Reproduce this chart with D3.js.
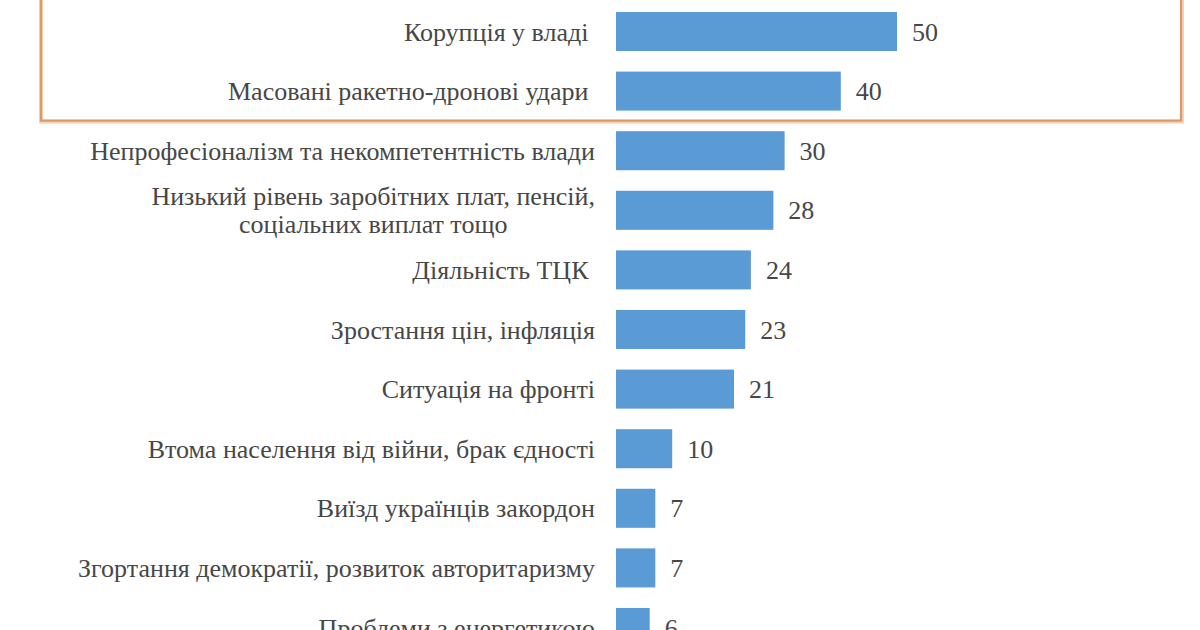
<!DOCTYPE html>
<html>
<head>
<meta charset="utf-8">
<script src="https://cdn.jsdelivr.net/npm/d3@7"></script>
<style>
  html, body { margin: 0; padding: 0; background: #fff; }
  svg { display: block; }
  text { font-family: "Liberation Serif", "Times New Roman", serif; fill: #474747; }
</style>
</head>
<body>
<script>
// <--Data--> //
var categories = [
  ["Корупція у владі\u00a0"],
  ["Масовані ракетно-дронові удари\u00a0"],
  ["Непрофесіоналізм та некомпетентність влади"],
  ["Низький рівень заробітних плат, пенсій,", "соціальних виплат тощо"],
  ["Діяльність ТЦК\u00a0"],
  ["Зростання цін, інфляція"],
  ["Ситуація на фронті"],
  ["Втома населення від війни, брак єдності"],
  ["Виїзд українців закордон"],
  ["Згортання демократії, розвиток авторитаризму"],
  ["Проблеми з енергетикою"]
];
var values = [50, 40, 30, 28, 24, 23, 21, 10, 7, 7, 6];
var highlighted = [0, 1];

// <--Setup--> //
var W = 1200, H = 630;
var fs = 26;
var svg = d3.select("body").append("svg")
  .attr("width", W).attr("height", H);

var idx = d3.range(values.length);

var y = d3.scaleBand()
  .domain(idx)
  .range([1.7, 657.3])
  .paddingInner(0.345)
  .paddingOuter(0.1725);

var x = d3.scaleLinear()
  .domain([0, 50])
  .range([616, 897]);

// highlight box round the top rows
var hiTop = y(highlighted[0]) - y.step() * 0.345 / 2 - 9;
var hiBot = y(highlighted[highlighted.length - 1]) + y.bandwidth() + 10;
svg.append("rect")
  .attr("x", 41).attr("y", hiTop + 1)
  .attr("width", 1141).attr("height", hiBot - hiTop)
  .attr("fill", "none")
  .attr("stroke", "#f3d3b8")
  .attr("stroke-width", 4);
svg.append("rect")
  .attr("x", 41).attr("y", hiTop)
  .attr("width", 1140).attr("height", hiBot - hiTop)
  .attr("fill", "none")
  .attr("stroke", "#dd9a66")
  .attr("stroke-width", 2.2);

// <--Bars--> //
svg.selectAll("rect.bar")
  .data(values)
  .enter().append("rect")
  .attr("class", "bar")
  .attr("x", x(0))
  .attr("y", function(d, i) { return y(i); })
  .attr("width", function(d) { return x(d) - x(0); })
  .attr("height", y.bandwidth())
  .attr("fill", "#5b9bd5");

// value labels
svg.selectAll("text.val")
  .data(values)
  .enter().append("text")
  .attr("class", "val")
  .attr("x", function(d) { return x(d) + 15; })
  .attr("y", function(d, i) { return y(i) + y.bandwidth() / 2; })
  .attr("dy", "0.35em")
  .style("font-size", fs + "px")
  .text(function(d) { return d; });

// category labels
var lineH = 28;
var cat = svg.selectAll("text.cat")
  .data(categories)
  .enter().append("text")
  .attr("class", "cat")
  .style("font-size", fs + "px")
  .attr("text-anchor", "middle")
  .attr("y", function(d, i) { return y(i) + y.bandwidth() / 2; });

cat.each(function(lines, i) {
  var t = d3.select(this);
  t.text(null);
  // measure widest line to right-align the block and centre lines within it
  var tmp = svg.append("text").style("font-size", fs + "px");
  var wMax = d3.max(lines, function(l) {
    tmp.text(l);
    return tmp.node().getComputedTextLength();
  });
  tmp.remove();
  var cx = 595 - wMax / 2;
  var off = -(lines.length - 1) / 2 * lineH;
  lines.forEach(function(l, k) {
    t.append("tspan")
      .attr("x", cx)
      .attr("y", y(i) + y.bandwidth() / 2 + off + k * lineH)
      .attr("dy", "0.35em")
      .text(l);
  });
});
</script>
</body>
</html>
